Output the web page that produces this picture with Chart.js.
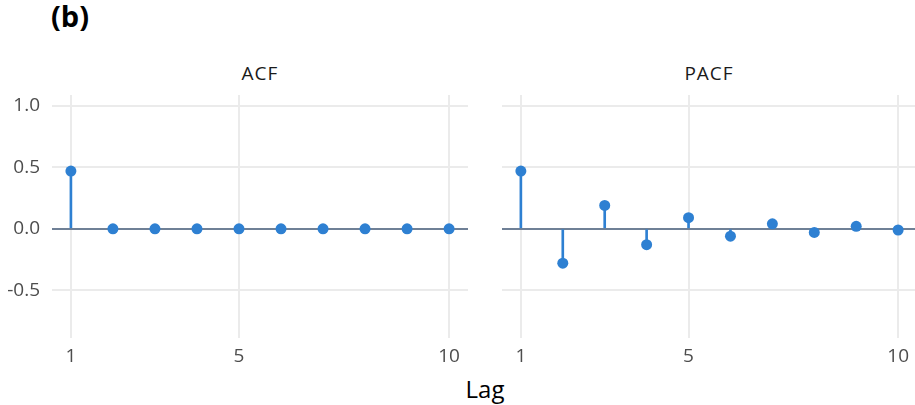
<!DOCTYPE html>
<html>
<head>
<meta charset="utf-8">
<script src="https://cdn.jsdelivr.net/npm/chart.js@4"></script>
<style>
  html, body { margin: 0; padding: 0; background: #fff; }
  body { width: 915px; height: 405px; position: relative; overflow: hidden; font-family: "Open Sans", sans-serif; }
  .txt { position: absolute; white-space: nowrap; line-height: normal; }
  #tag { left: 51px; top: -4px; font-size: 29px; font-weight: bold; color: #000; }
  .strip { top: 60px; font-size: 19px; letter-spacing: 1px; color: #1a1a1a; transform: translateX(-50%); }
  #lag { left: 485px; top: 372px; font-size: 24px; color: #000; transform: translateX(-50%); }
  canvas { position: absolute; }
</style>
</head>
<body>
<div class="txt" id="tag">(b)</div>
<div class="txt strip" style="left:260px">ACF</div>
<div class="txt strip" style="left:709px">PACF</div>
<div class="txt" id="lag">Lag</div>
<canvas id="acfChart" width="470" height="280" style="left:0px; top:95px"></canvas>
<canvas id="pacfChart" width="415" height="280" style="left:502px; top:95px"></canvas>
<script>
// données
const lags = [1, 2, 3, 4, 5, 6, 7, 8, 9, 10];
const acfValues = [0.47, 0, 0, 0, 0, 0, 0, 0, 0, 0];
const pacfValues = [0.47, -0.28, 0.19, -0.13, 0.09, -0.06, 0.04, -0.03, 0.02, -0.01];
const xTicks = [1, 5, 10];
const yTicks = [-0.5, 0, 0.5, 1.0];

const blue = "#2E80D2";
const gridColor = "#EBEBEB";
const zeroColor = "#6F8096";
const tickFont = { family: "'Open Sans', sans-serif", size: 19 };

function makePanel(id, values, showY) {
    const ctx = document.getElementById(id).getContext("2d");
    return new Chart(ctx, {
        data: {
            datasets: [
                {
                    // tiges
                    type: "bar",
                    data: lags.map((l, i) => ({ x: l, y: [0, values[i]] })),
                    backgroundColor: blue,
                    barThickness: 2,
                    grouped: false,
                    order: 2
                },
                {
                    // points
                    type: "scatter",
                    data: lags.map((l, i) => ({ x: l, y: values[i] })),
                    backgroundColor: blue,
                    borderWidth: 0,
                    pointRadius: 5.5,
                    order: 1
                }
            ]
        },
        options: {
            responsive: false,
            animation: false,
            layout: { autoPadding: false, padding: { top: 0, bottom: 0, left: 0, right: showY ? 2 : 0 } },
            plugins: { legend: { display: false }, tooltip: { enabled: false } },
            scales: {
                x: {
                    type: "linear",
                    min: 0.55,
                    max: 10.45,
                    offset: false,
                    afterBuildTicks: s => { s.ticks = xTicks.map(v => ({ value: v })); },
                    afterFit: s => { s.height = 37; s.paddingLeft = 0; s.paddingRight = 0; },
                    grid: { color: gridColor, lineWidth: 2, drawTicks: false, offset: false },
                    border: { display: false },
                    ticks: { font: tickFont, color: "#4D4D4D", padding: 7, maxRotation: 0 }
                },
                y: {
                    type: "linear",
                    min: -0.89,
                    max: 1.09,
                    afterBuildTicks: s => { s.ticks = yTicks.map(v => ({ value: v })); },
                    afterFit: s => { s.width = showY ? 52 : 0; s.paddingTop = 0; s.paddingBottom = 0; },
                    grid: {
                        color: c => (c.tick && c.tick.value === 0) ? zeroColor : gridColor,
                        lineWidth: 2,
                        drawTicks: false
                    },
                    border: { display: false },
                    ticks: {
                        display: showY,
                        font: tickFont,
                        color: "#4D4D4D",
                        padding: 12,
                        callback: v => v.toFixed(1)
                    }
                }
            }
        }
    });
}

document.addEventListener("DOMContentLoaded", () => {
    makePanel("acfChart", acfValues, true);
    makePanel("pacfChart", pacfValues, false);
});
</script>
</body>
</html>
